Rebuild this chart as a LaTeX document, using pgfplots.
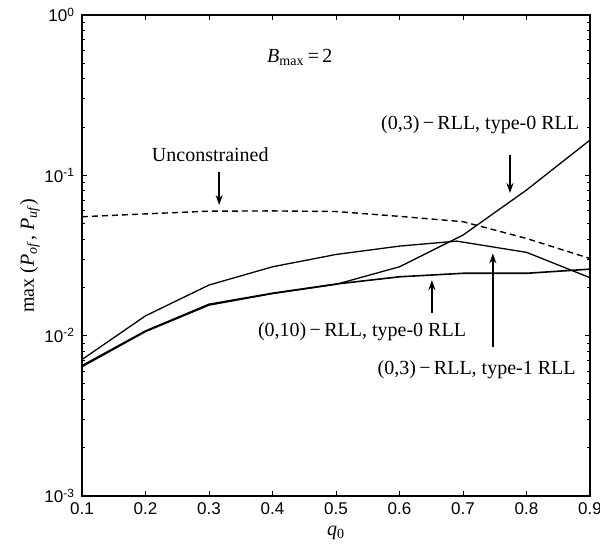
\documentclass[border=0pt]{standalone}
\usepackage{fontspec}
\setmainfont{Liberation Serif}
\newfontfamily\arial{Liberation Sans}
\usepackage{pgfplots}
\pgfplotsset{compat=1.18}
\usetikzlibrary{arrows.meta}

\begin{document}
\begin{tikzpicture}
\begin{axis}[
    name=ax,
    scale only axis, width=254pt, height=240.5pt,
    ymode=log,
    xmin=0.1, xmax=0.9, ymin=1e-3, ymax=1,
    xtick={0.1,0.2,0.3,0.4,0.5,0.6,0.7,0.8,0.9},
    xticklabels={0.1,0.2,0.3,0.4,0.5,0.6,0.7,0.8,0.9},
    ytick={1e-3,1e-2,1e-1,1},
    yticklabels={10\textsuperscript{-3},10\textsuperscript{-2},10\textsuperscript{-1},10\textsuperscript{0}},
    tick pos=both, tick align=inside,
    major tick length=2.5pt, minor tick length=1.5pt,
    tick label style={font=\arial\fontsize{8.5}{10}\selectfont},
    axis line style={line width=0.7pt},
    every tick/.style={black, line width=0.5pt},
]
% unconstrained
\addplot[black, line width=0.7pt, dash pattern=on 3pt off 2pt] coordinates {
 (0.1,0.0552) (0.2,0.0575) (0.3,0.0598) (0.4,0.0600) (0.5,0.0595)
 (0.6,0.0555) (0.7,0.0514) (0.8,0.0404) (0.9,0.0303)};
% (0,3)-RLL, type-0
\addplot[black, line width=0.65pt] coordinates {
 (0.1,0.0064) (0.2,0.0106) (0.3,0.0155) (0.4,0.0183) (0.5,0.0209)
 (0.6,0.0269) (0.7,0.0424) (0.8,0.081) (0.9,0.166)};
% (0,10)-RLL, type-0
\addplot[black, line width=0.8pt] coordinates {
 (0.1,0.0065) (0.2,0.0107) (0.3,0.0157) (0.4,0.0184) (0.5,0.0210)
 (0.6,0.0233) (0.7,0.0245) (0.8,0.0245) (0.9,0.0260)};
% (0,3)-RLL, type-1
\addplot[black, line width=0.65pt] coordinates {
 (0.1,0.0071) (0.2,0.0133) (0.3,0.0207) (0.4,0.0269) (0.5,0.0321)
 (0.6,0.0362) (0.69,0.0389) (0.8,0.0331) (0.9,0.0230)};

\node at (axis cs:0.443,0.547) {\textit{B}\textsubscript{max}\,=\,2};
\node at (axis cs:0.302,0.134) {Unconstrained};
\draw[line width=0.8pt, -{Stealth[length=5pt,width=3.5pt]}] (axis cs:0.316,0.105) -- (axis cs:0.316,0.0653);
\node at (axis cs:0.727,0.206) {(0,3)\,−\,RLL, type-0 RLL};
\draw[line width=0.8pt, -{Stealth[length=5pt,width=3.5pt]}] (axis cs:0.774,0.134) -- (axis cs:0.774,0.0776);
\node at (axis cs:0.541,0.01057) {(0,10)\,−\,RLL, type-0 RLL};
\draw[line width=0.8pt, -{Stealth[length=5pt,width=3.5pt]}] (axis cs:0.651,0.01377) -- (axis cs:0.651,0.0222);
\node at (axis cs:0.7215,0.0061) {(0,3)\,−\,RLL, type-1 RLL};
\draw[line width=0.8pt, -{Stealth[length=5pt,width=3.5pt]}] (axis cs:0.747,0.00853) -- (axis cs:0.747,0.0326);
\end{axis}
\node[rotate=90] at ([xshift=-26pt]ax.west) {max (\textit{P}\textsubscript{\textit{of}}, \textit{P}\textsubscript{\textit{uf}})};
\node at ([yshift=-18.5pt]ax.south) {\textit{q}\textsubscript{0}};
\pgfresetboundingbox
\path ([xshift=-41pt,yshift=-26pt]ax.south west) rectangle ([xshift=5pt,yshift=7.5pt]ax.north east);
\end{tikzpicture}
\end{document}
